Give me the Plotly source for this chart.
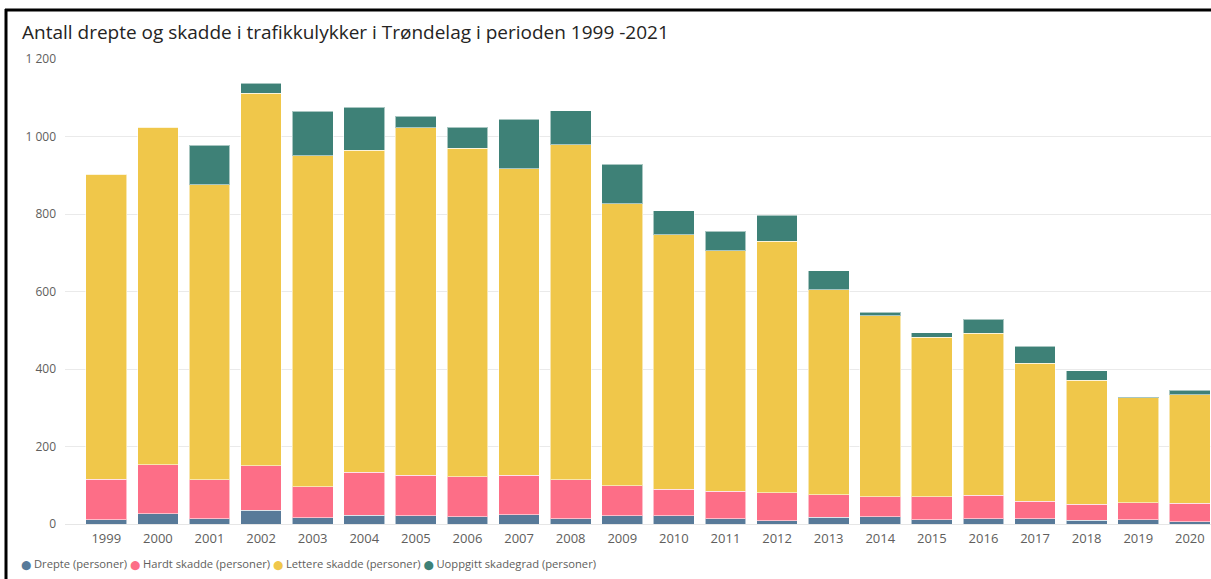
import plotly.graph_objects as go

years = list(range(1999, 2021))
drepte = [11, 27, 14, 36, 16, 23, 21, 19, 24, 13, 21, 21, 14, 9, 17, 19, 11, 13, 14, 10, 11, 6]
hardt_skadde = [105, 126, 100, 114, 80, 111, 105, 103, 102, 101, 78, 69, 70, 72, 58, 51, 59, 61, 45, 41, 44, 47]
lettere_skadde = [787, 871, 762, 962, 854, 830, 897, 848, 791, 865, 728, 657, 621, 649, 530, 468, 412, 418, 356, 320, 271, 281]
uoppgitt = [0, 0, 101, 26, 115, 112, 29, 54, 127, 88, 101, 62, 51, 67, 48, 8, 12, 36, 44, 25, 3, 11]

series_names = ["Drepte (personer)", "Hardt skadde (personer)",
                "Lettere skadde (personer)", "Uoppgitt skadegrad (personer)"]
series_values = [drepte, hardt_skadde, lettere_skadde, uoppgitt]
colors = ["#587A99", "#FD6E87", "#F0C74A", "#3E8177"]

y_tickvals = [0, 200, 400, 600, 800, 1000, 1200]
y_ticktext = ["0", "200", "400", "600", "800", "1 000", "1 200"]

title_text = "Antall drepte og skadde i trafikkulykker i Trøndelag i perioden 1999 -2021"

W, H = 1211, 579
ML, MR, MT, MB = 65, 0, 59, 55
PW = W - ML - MR
PH = H - MT - MB

def px_x(p):
    return (p - ML) / PW

def px_y(p):
    return (H - MB - p) / PH

fig = go.Figure()
for name, vals, col in zip(series_names, series_values, colors):
    fig.add_trace(go.Bar(
        x=years, y=vals, name=name,
        marker=dict(color=col, line=dict(color="rgba(255,255,255,0.55)", width=1)),
        showlegend=False,
    ))

legend_html = " ".join(
    f'<span style="color:{c};font-family:DejaVu Sans;font-size:9px">⬤</span> {n}'
    for n, c in zip(series_names, colors)
)

fig.update_layout(
    width=W, height=H,
    barmode="stack",
    bargap=0.21,
    plot_bgcolor="white",
    paper_bgcolor="white",
    margin=dict(l=ML, r=MR, t=MT, b=MB, pad=0),
    font=dict(family="Open Sans", color="#605E5C"),
    xaxis=dict(
        range=[1998.2, 2020.41],
        tickmode="array", tickvals=years, ticktext=[str(y) for y in years],
        tickfont=dict(size=13, color="#605E5C"),
        ticklabelstandoff=5,
        showgrid=False, zeroline=False, showline=False, ticks="",
    ),
    yaxis=dict(
        range=[0, 1200],
        tickmode="array", tickvals=y_tickvals, ticktext=y_ticktext,
        tickfont=dict(size=12, color="#605E5C"),
        ticklabelstandoff=8,
        showgrid=True, gridcolor="#EAEAEA", gridwidth=1,
        zeroline=True, zerolinecolor="#E6E6E6", zerolinewidth=1,
        showline=False, ticks="",
    ),
    annotations=[
        dict(text=title_text, xref="paper", yref="paper",
             x=px_x(20), y=px_y(32), xanchor="left", yanchor="middle",
             showarrow=False, font=dict(size=19, color="#252423", family="Open Sans")),
        dict(text=legend_html, xref="paper", yref="paper",
             x=px_x(19), y=px_y(563), xanchor="left", yanchor="middle",
             showarrow=False, font=dict(size=11.2, color="#605E5C", family="Open Sans")),
    ],
    shapes=[
        dict(type="line", xref="paper", yref="paper",
             x0=px_x(6), x1=px_x(6), y0=px_y(9), y1=px_y(H + 5),
             line=dict(color="black", width=3)),
        dict(type="line", xref="paper", yref="paper",
             x0=px_x(5), x1=px_x(W + 5), y0=px_y(10), y1=px_y(10),
             line=dict(color="black", width=3)),
    ],
)

fig.write_html(
    "out.html",
    config={"displayModeBar": False},
    post_script="document.body.style.margin='0';document.body.style.overflow='hidden';",
)
